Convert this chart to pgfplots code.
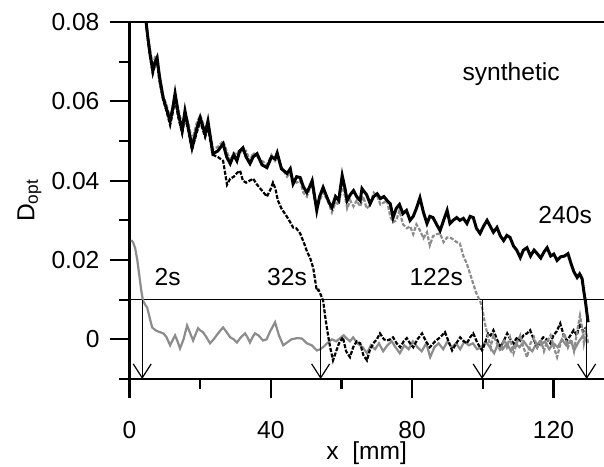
\documentclass[border=0pt]{standalone}
\usepackage{fontspec}
\setmainfont{Liberation Sans}
\usepackage{pgfplots}
\pgfplotsset{compat=1.18}
\usetikzlibrary{arrows.meta}

\definecolor{curvegray}{RGB}{140,140,140}

% 240s
\pgfplotstableread{
x y
4.5 0.0815
5.2 0.076
5.8 0.072
6.6 0.0677
7.3 0.070
7.8 0.071
8.5 0.066
9.5 0.061
10.5 0.058
11.5 0.055
12.2 0.058
12.9 0.062
13.8 0.057
14.9 0.0526
15.7 0.0576
16.7 0.053
17.7 0.0483
19.0 0.053
20.0 0.0559
21.4 0.0518
22.2 0.055
23.6 0.0468
25.0 0.0475
26.5 0.0493
27.5 0.046
28.5 0.0443
29.5 0.0465
30.4 0.045
31.2 0.0475
32.1 0.0483
33.0 0.046
34.1 0.0443
35.0 0.046
36.1 0.0468
37.5 0.044
38.9 0.0433
40.2 0.046
41.2 0.0455
41.8 0.047
43.0 0.043
44.6 0.0418
45.5 0.043
46.3 0.0392
47.3 0.041
48.3 0.0408
49.2 0.0385
50.2 0.037
51.0 0.0385
51.7 0.040
52.4 0.036
53.0 0.0325
53.8 0.036
54.8 0.0383
55.8 0.036
56.5 0.0345
57.3 0.0332
58.3 0.036
59.2 0.035
60.2 0.0413
61.0 0.038
61.6 0.035
62.5 0.0365
63.4 0.0375
64.3 0.036
65.3 0.035
65.8 0.038
66.2 0.0375
67.1 0.0365
68.1 0.0342
69.1 0.036
70.1 0.0367
71.0 0.0355
72.0 0.036
72.9 0.035
73.8 0.0342
74.6 0.0307
75.5 0.033
76.4 0.034
77.4 0.0317
78.4 0.0325
79.4 0.030
80.3 0.031
81.2 0.033
82.2 0.0357
83.2 0.032
84.2 0.0292
85.0 0.031
85.9 0.0307
86.9 0.029
87.9 0.0274
88.9 0.030
89.9 0.0325
90.7 0.0292
91.6 0.030
92.6 0.0307
93.5 0.0300
94.5 0.0305
95.5 0.0292
96.4 0.031
97.3 0.0307
98.2 0.028
99.2 0.0267
100.2 0.0285
101.2 0.030
102.1 0.0285
103.0 0.027
104.0 0.0282
105.0 0.026
105.9 0.0249
106.8 0.0262
107.7 0.0257
108.7 0.0235
109.6 0.0225
110.6 0.0206
111.5 0.0225
112.5 0.0231
113.5 0.021
114.5 0.0225
115.4 0.0216
116.4 0.0205
117.3 0.022
118.2 0.0231
119.2 0.021
120.1 0.0215
121.0 0.0199
122.0 0.0208
123.1 0.021
124.1 0.0216
125.0 0.019
125.8 0.017
126.7 0.0156
127.4 0.0165
128.1 0.0153
128.6 0.012
129.0 0.0098
129.4 0.007
129.8 0.0043
}\tcc

% 122s
\pgfplotstableread{
x y
4.5 0.0815
5.2 0.0765
5.8 0.073
6.6 0.069
7.3 0.0715
7.8 0.0715
8.5 0.067
9.5 0.0615
10.5 0.059
11.5 0.056
12.2 0.0585
12.9 0.0615
13.8 0.058
14.9 0.054
15.7 0.057
16.7 0.0545
17.7 0.050
19.0 0.0545
20.0 0.0565
21.4 0.053
22.2 0.0545
23.6 0.048
25.0 0.0485
26.5 0.050
27.5 0.0475
28.5 0.045
29.5 0.047
30.4 0.0465
31.2 0.048
32.1 0.047
33.0 0.0475
34.1 0.045
35.0 0.047
36.1 0.046
37.5 0.045
38.9 0.044
40.2 0.0465
41.2 0.045
41.8 0.046
43.0 0.0435
44.6 0.041
45.5 0.042
46.3 0.040
47.3 0.0395
48.3 0.040
49.2 0.037
50.2 0.036
51.0 0.038
51.7 0.0385
52.4 0.035
53.0 0.033
53.8 0.035
54.8 0.037
55.8 0.0355
56.5 0.034
57.3 0.032
58.3 0.0345
59.2 0.034
60.2 0.039
61.0 0.036
61.6 0.033
62.5 0.035
63.4 0.0335
64.3 0.035
65.3 0.0335
66.2 0.036
67.1 0.033
68.1 0.0338
69.1 0.037
70.1 0.0362
71.0 0.034
72.0 0.0345
72.9 0.035
73.8 0.031
74.6 0.0295
75.5 0.030
76.4 0.0325
77.4 0.029
78.5 0.028
79.4 0.0285
80.3 0.0265
81.2 0.029
82.2 0.0275
83.2 0.0255
84.2 0.027
85.0 0.0237
85.9 0.026
86.9 0.0265
87.9 0.0267
88.9 0.0245
89.9 0.0257
90.7 0.0257
91.6 0.0252
92.6 0.0245
93.5 0.0242
94.5 0.021
95.5 0.019
96.4 0.0165
97.3 0.014
98.0 0.012
98.7 0.0106
99.2 0.0098
99.8 0.008
100.6 0.004
101.5 0.0005
102.2 -0.002
103.0 0.001
104.0 -0.001
105.0 -0.003
105.9 0.000
106.8 -0.002
107.7 0.0005
108.7 -0.0035
109.6 -0.001
110.6 0.001
111.5 -0.002
112.5 -0.0045
113.5 -0.001
114.5 0.0005
115.4 -0.002
116.4 0.000
117.3 -0.003
118.2 -0.0005
119.2 0.001
120.1 -0.002
121.0 -0.0045
122.0 -0.001
123.1 0.0015
124.1 -0.002
125.0 0.000
125.8 -0.003
126.7 0.002
127.5 0.0060
128.1 0.003
128.6 -0.001
129.2 0.002
129.8 -0.001
}\tcb

% 32s
\pgfplotstableread{
x y
4.5 0.0815
5.2 0.0758
5.8 0.0715
6.6 0.067
7.3 0.0695
7.8 0.070
8.5 0.065
9.5 0.0605
10.5 0.0575
11.5 0.054
12.2 0.057
12.9 0.0605
13.8 0.056
14.9 0.052
15.7 0.056
16.7 0.0525
17.7 0.0478
19.0 0.052
20.0 0.055
21.4 0.051
22.2 0.0535
23.6 0.0465
25.0 0.046
26.5 0.045
27.6 0.039
28.5 0.0405
29.5 0.041
30.5 0.042
31.3 0.0425
32.1 0.040
33.0 0.0395
34.0 0.040
35.0 0.0405
36.1 0.039
37.5 0.0375
38.9 0.036
40.0 0.038
40.6 0.0395
41.3 0.038
42.0 0.035
43.0 0.033
44.5 0.031
45.5 0.0295
46.3 0.0282
47.2 0.028
48.3 0.0267
49.5 0.024
50.3 0.022
51.1 0.0206
52.0 0.018
53.0 0.0123
53.5 0.0125
54.0 0.0115
54.8 0.0098
55.5 0.005
56.2 0.001
56.8 -0.002
57.6 -0.0053
58.5 -0.003
59.3 -0.001
60.4 0.0005
61.3 -0.003
62.4 -0.0045
63.3 -0.002
64.3 -0.0005
65.3 -0.001
66.2 -0.004
67.2 -0.0053
68.0 -0.0028
69.0 -0.001
70.0 0.000
70.9 0.0015
72.0 0.000
72.9 -0.0003
73.8 0.000
74.6 0.0005
75.6 -0.001
76.6 -0.002
77.6 -0.0005
78.5 0.0003
79.4 -0.001
80.3 -0.002
81.5 0.000
82.8 0.0015
83.9 -0.0005
85.0 -0.002
86.5 -0.0005
87.9 0.0005
89.3 0.0018
90.3 -0.0005
91.3 -0.0028
92.5 -0.001
93.6 0.0005
94.6 -0.0005
95.5 -0.001
96.4 0.0005
97.3 0.0015
98.5 -0.001
99.8 -0.0028
100.6 -0.001
101.5 0.0015
102.2 0.001
103.0 0.0023
104.0 0.000
104.9 -0.002
105.9 -0.0005
106.9 0.0015
107.8 0.000
108.7 -0.001
109.7 0.0005
110.6 -0.0003
111.5 0.001
112.5 0.0015
113.4 0.0023
114.4 0.000
115.4 -0.002
116.2 -0.0005
117.1 0.0005
118.1 0.000
119.1 -0.001
120.0 0.001
120.9 0.002
121.9 0.004
122.9 0.001
123.8 -0.0003
124.8 0.001
125.7 0.0023
126.6 0.001
127.5 0.004
128.4 0.002
129.2 0.003
}\tcd

% 2s
\pgfplotstableread{
x y
0.5 0.025
1.0 0.0245
1.6 0.023
2.2 0.020
2.8 0.016
3.3 0.0125
3.8 0.0098
4.4 0.0088
5.0 0.008
5.7 0.0055
6.4 0.003
7.5 0.0022
8.6 0.0018
9.6 0.0015
10.5 0.0005
11.5 -0.0015
12.2 -0.0002
12.9 0.001
13.6 -0.0005
14.3 -0.0023
15.3 0.000
16.3 0.0035
17.2 0.0015
18.0 -0.0003
18.8 0.0015
19.4 0.0028
20.1 0.0022
20.8 0.0018
21.8 0.0005
22.8 -0.001
23.8 0.000
24.8 0.0012
25.7 0.0022
26.5 0.003
27.5 0.0018
28.5 0.0005
29.5 0.000
30.4 -0.0008
31.5 0.0005
32.7 0.0015
33.4 0.0005
34.1 -0.0008
34.8 0.0005
35.5 0.0015
36.5 0.001
37.8 -0.0003
38.8 0.000
39.8 0.002
41.2 0.0043
42.3 0.001
43.5 -0.0015
44.6 -0.0008
45.8 0.000
47.4 0.0003
48.8 0.0002
50.2 -0.001
51.6 -0.0015
53.0 -0.0028
54.0 -0.0025
55.0 -0.0018
55.9 -0.001
57.3 0.000
58.5 -0.0005
59.6 0.0003
60.6 0.001
61.5 0.0002
62.4 -0.0005
63.3 0.0005
64.5 -0.001
66.0 -0.002
67.2 -0.0035
68.3 -0.0015
69.5 -0.0025
70.6 -0.001
71.8 -0.003
73.0 -0.0015
74.2 -0.0005
75.3 -0.002
76.5 -0.0035
77.8 -0.0015
79.0 -0.0025
80.2 -0.0005
81.5 -0.002
82.7 -0.003
84.0 -0.001
85.1 -0.0045
86.3 -0.002
87.5 -0.001
88.8 -0.0025
90.0 -0.0005
91.2 -0.002
92.4 -0.001
93.6 -0.0025
94.8 -0.0005
96.0 -0.0015
97.2 -0.001
98.4 -0.0025
99.6 -0.002
100.8 -0.0005
102.0 -0.002
103.2 -0.0035
104.4 -0.001
105.6 -0.0025
106.8 -0.001
108.0 -0.003
109.2 -0.001
110.4 -0.002
111.6 -0.0005
112.8 -0.002
114.0 -0.003
115.2 -0.001
116.4 -0.0015
117.6 -0.0005
118.8 -0.0025
120.0 -0.001
121.2 -0.002
122.4 0.000
123.6 -0.0015
124.8 -0.0005
126.0 -0.0025
127.2 -0.0005
128.4 0.001
129.6 -0.001
}\tca

\begin{document}
\begin{tikzpicture}
\path[use as bounding box] (-64.75pt,-43.5pt) rectangle (237.25pt,189.5pt);
\begin{axis}[
  at={(0,0)}, anchor=south west,
  scale only axis,
  width=237.25pt, height=178.5pt,
  xmin=0, xmax=134.3,
  ymin=-0.01, ymax=0.08,
  axis x line=box, axis y line=left,
  axis line style={line width=1.1pt, -},
  tick align=outside,
  xtick pos=bottom, ytick pos=left,
  xtick={0,40,80,120}, xticklabels={0,40,80,120},
  minor xtick={20,60,100},
  ytick={0,0.02,0.04,0.06,0.08},
  yticklabels={0,0.02,0.04,0.06,0.08},
  minor ytick={-0.01,0.01,0.03,0.05,0.07},
  scaled y ticks=false,
  major tick length=9.5pt, minor tick length=5pt,
  every tick/.style={line width=1.1pt, black},
  tick label style={font=\fontsize{12.3}{14}\selectfont},
  xticklabel style={yshift=-8pt},
  yticklabel style={xshift=-2pt},
  xlabel={x~~[mm]},
  ylabel={D\textsubscript{opt}},
  label style={font=\fontsize{12.3}{14}\selectfont},
  xlabel style={at={(axis description cs:0.5,0)}, anchor=base, yshift=-40pt},
  ylabel style={at={(axis description cs:0,0.5)}, anchor=center, rotate=0, yshift=50pt},
]
\addplot[thin, black, line width=0.6pt] coordinates {(0,0.01) (134.3,0.01)};
\addplot[curvegray, line width=1.1pt] table {\tca};
\addplot[black, line width=1.1pt, dash pattern=on 2pt off 0.8pt] table {\tcd};
\addplot[curvegray, line width=1.1pt, dash pattern=on 2pt off 0.8pt] table {\tcb};
\addplot[black, line width=1.5pt] table {\tcc};
\addplot[black, line width=0.6pt, -{Straight Barb[length=7pt, width=9pt, line width=0.6pt]}] coordinates {(3.6,0.01) (3.6,-0.01)};
\addplot[black, line width=0.6pt, -{Straight Barb[length=7pt, width=9pt, line width=0.6pt]}] coordinates {(54.1,0.01) (54.1,-0.01)};
\addplot[black, line width=0.6pt, -{Straight Barb[length=7pt, width=9pt, line width=0.6pt]}] coordinates {(99.8,0.01) (99.8,-0.01)};
\addplot[black, line width=0.6pt, -{Straight Barb[length=7pt, width=9pt, line width=0.6pt]}] coordinates {(129.4,0.01) (129.4,-0.01)};
\node[anchor=base, font=\fontsize{12.3}{14}\selectfont] at (axis cs:10.8,0.0136) {2s};
\node[anchor=base, font=\fontsize{12.3}{14}\selectfont] at (axis cs:44.6,0.0136) {32s};
\node[anchor=base, font=\fontsize{12.3}{14}\selectfont] at (axis cs:86.8,0.0136) {122s};
\node[anchor=base, font=\fontsize{12.3}{14}\selectfont] at (axis cs:123.3,0.0292) {240s};
\node[anchor=base, font=\fontsize{12.3}{14}\selectfont] at (axis cs:108,0.0652) {synthetic};
\end{axis}
\end{tikzpicture}
\end{document}
